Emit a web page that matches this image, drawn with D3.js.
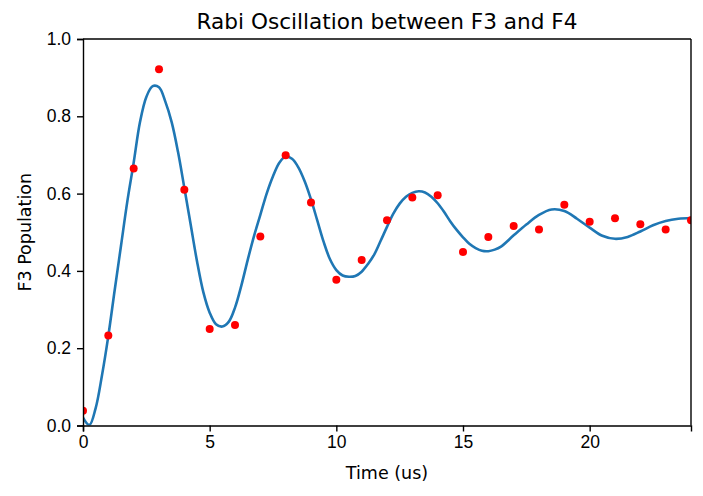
<!DOCTYPE html>
<html>
<head>
<meta charset="utf-8">
<script src="https://cdn.jsdelivr.net/npm/d3@7"></script>
<style>
  body { margin: 0; background: #fff; }
  svg { font-family: 'DejaVu Sans', sans-serif; }
  .axis text { font-size: 17.5px; fill: #000; }
  .axis path, .axis line { stroke: #000; stroke-width: 1.4px; }
  .label { font-size: 17.5px; fill: #000; }
  .chartTitle { font-size: 21.6px; fill: #000; }
</style>
</head>
<body>
<svg width="703" height="496"></svg>
<script>
// measured points (time in us, F3 population)
const dotTime = [0, 1, 2, 3, 4, 5, 6, 7, 8, 9, 10, 11, 12, 13, 14, 15, 16, 17, 18, 19, 20, 21, 22, 23, 24]
const dotValue = [0.038, 0.233, 0.665, 0.922, 0.610, 0.250, 0.260, 0.489, 0.699, 0.577, 0.377, 0.428, 0.531, 0.590, 0.596, 0.449, 0.488, 0.516, 0.507, 0.571, 0.527, 0.536, 0.521, 0.507, 0.531]

// fitted curve
const fitTime = [0, 0.25, 0.5, 0.75, 1, 1.25, 1.5, 1.75, 2, 2.25, 2.5, 2.75, 3, 3.25, 3.5, 3.75,
  4, 4.25, 4.5, 4.75, 5, 5.25, 5.5, 5.75, 6, 6.25, 6.5, 6.75, 7, 7.25, 7.5, 7.75,
  8, 8.25, 8.5, 8.75, 9, 9.25, 9.5, 9.75, 10, 10.25, 10.5, 10.75, 11, 11.25, 11.5, 11.75,
  12, 12.25, 12.5, 12.75, 13, 13.25, 13.5, 13.75, 14, 14.25, 14.5, 14.75, 15, 15.25, 15.5, 15.75,
  16, 16.25, 16.5, 17, 17.5, 18, 18.5, 19, 19.5, 20, 20.5, 21, 21.5, 22, 22.5, 23, 23.5, 24]
const fitValue = [0.020, 0.001, 0.045, 0.130, 0.232, 0.350, 0.465, 0.580, 0.680, 0.785, 0.850, 0.878, 0.875, 0.838, 0.785, 0.708,
  0.615, 0.520, 0.425, 0.345, 0.292, 0.262, 0.256, 0.268, 0.305, 0.362, 0.428, 0.490, 0.545, 0.600, 0.645, 0.680,
  0.696, 0.690, 0.668, 0.632, 0.585, 0.530, 0.475, 0.430, 0.402, 0.388, 0.385, 0.387, 0.398, 0.418, 0.443, 0.478,
  0.514, 0.548, 0.574, 0.592, 0.602, 0.606, 0.603, 0.592, 0.575, 0.553, 0.528, 0.506, 0.487, 0.470, 0.459, 0.452,
  0.451, 0.455, 0.463, 0.492, 0.520, 0.545, 0.559, 0.555, 0.535, 0.512, 0.491, 0.483, 0.488, 0.502, 0.518, 0.529, 0.535, 0.537]

const xTicks = [0, 5, 10, 15, 20]
const yTicks = [0, 0.2, 0.4, 0.6, 0.8, 1.0]

const svg = d3
.select('svg')

const margin = {top: 39, right: 12, bottom: 70.5, left: 83},
width = 703 - margin.left - margin.right,
height = 496 - margin.top - margin.bottom

const x = d3.scaleLinear().domain([0, 24]).range([0, width])
const y = d3.scaleLinear().domain([0, 1]).range([height, 0])

// clip everything to the axes box
svg
.append('defs')
.append('clipPath')
.attr('id', 'plotArea')
.append('rect')
.attr('width', width)
.attr('height', height)

const g = svg
.append('g')
.attr('transform', `translate(${margin.left}, ${margin.top})`)

const plot = g
.append('g')
.attr('clip-path', 'url(#plotArea)')

// the fit line
const fit = fitTime.map((t, i) => [t, fitValue[i]])

plot
.append('path')
.datum(fit)
.attr('fill', 'none')
.attr('stroke', '#1f77b4')
.attr('stroke-width', 2.6)
.attr('d', d3.line()
  .x(d => x(d[0]))
  .y(d => y(d[1]))
  .curve(d3.curveCatmullRom.alpha(0.5)))

// the measured points
plot
.selectAll('.dot')
.data(dotTime.map((t, i) => [t, dotValue[i]]))
.enter()
.append('circle')
.attr('class', 'dot')
.attr('cx', d => x(d[0]))
.attr('cy', d => y(d[1]))
.attr('r', 4)
.attr('fill', 'red')

// axes
g
.append('g')
.attr('class', 'axis axis--x')
.attr('transform', `translate(0, ${height})`)
.call(d3.axisBottom(x).tickValues(xTicks).tickFormat(d3.format('d')).tickSize(6).tickPadding(4.5))

g
.append('g')
.attr('class', 'axis axis--y')
.call(d3.axisLeft(y).tickValues(yTicks).tickFormat(d3.format('.1f')).tickSize(6).tickPadding(6))

// top and right spines
g
.append('line')
.attr('x1', 0).attr('x2', width)
.attr('y1', 0).attr('y2', 0)
.attr('stroke', '#000')
.attr('stroke-width', 1.4)

g
.append('line')
.attr('x1', width).attr('x2', width)
.attr('y1', 0).attr('y2', height)
.attr('stroke', '#000')
.attr('stroke-width', 1.4)

// axis titles
g
.append('text')
.attr('class', 'label')
.attr('x', width / 2)
.attr('y', height + 53.5)
.attr('text-anchor', 'middle')
.text('Time (us)')

g
.append('text')
.attr('class', 'label')
.attr('transform', 'rotate(-90)')
.attr('x', -height / 2)
.attr('y', -margin.left + 31)
.attr('text-anchor', 'middle')
.text('F3 Population')

svg
.append('text')
.attr('class', 'chartTitle')
.attr('x', margin.left + width / 2)
.attr('y', margin.top - 10.5)
.attr('text-anchor', 'middle')
.text('Rabi Oscillation between F3 and F4')
</script>
</body>
</html>
